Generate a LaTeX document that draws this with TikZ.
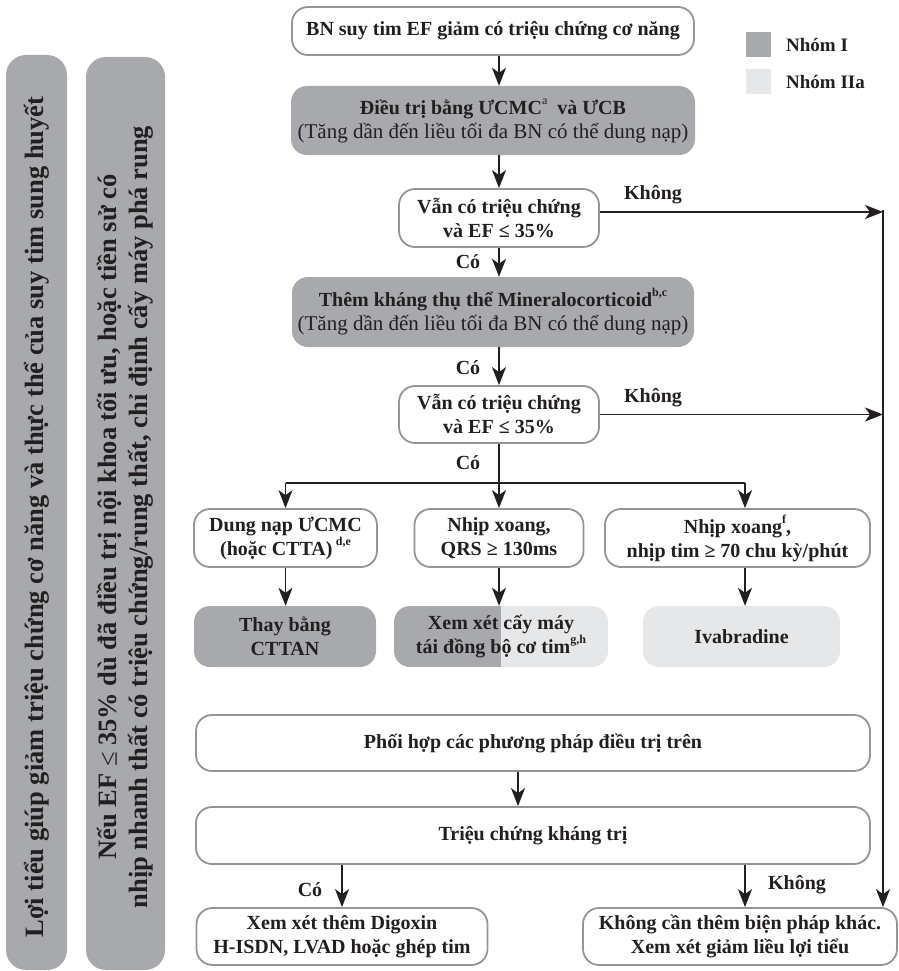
\documentclass[tikz,border=0pt]{standalone}
\usepackage{fontspec}
\setmainfont{Liberation Serif}
\usetikzlibrary{arrows.meta}
\definecolor{ink}{HTML}{231F20}
\definecolor{grpone}{HTML}{A7A9AC}
\definecolor{grptwo}{HTML}{E6E7E8}
\definecolor{rim}{HTML}{939598}
\newcommand\supnote[1]{\raisebox{0.5em}{\fontsize{12}{12}\selectfont #1}}
\newcommand\plainline[1]{{\fontsize{21}{25}\mdseries\selectfont #1}}

\begin{document}
\begin{tikzpicture}[x=1pt,y=-1pt,
  every node/.style={text=ink},
  base/.style={rounded corners=16pt, align=center, inner sep=0pt,
    font=\fontsize{20}{24}\selectfont\bfseries},
  openbox/.style={base, draw=rim, line width=1.8pt, fill=white},
  darkbox/.style={base, fill=grpone},
  lightbox/.style={base, fill=grptwo},
  wire/.style={draw=ink, line width=1.5pt},
  flow/.style={wire, -{Stealth[length=18pt,width=14pt,inset=5pt]}},
  tag/.style={font=\fontsize{20}{24}\selectfont\bfseries, inner sep=0pt},
  sidetext/.style={rotate=90, align=center, inner sep=0pt,
    font=\fontsize{26.5}{30.5}\selectfont\bfseries},
]
\useasboundingbox (0,0) rectangle (898,971);

% side bars
\fill[grpone, rounded corners=20pt] (6,55) rectangle (67,970);
\fill[grpone, rounded corners=20pt] (86,57) rectangle (165,970);
\node[sidetext] (diuretic) at (37,517)
  {Lợi tiểu giúp giảm triệu chứng cơ năng và thực thể của suy tim sung huyết};
\node[sidetext] (icd) at (125.5,517)
  {Nếu EF {\mdseries≤} 35\% dù đã điều trị nội khoa tối ưu, hoặc tiền sử có\\
   nhịp nhanh thất có triệu chứng/rung thất, chỉ định cấy máy phá rung};

% legend
\node[fill=grpone, minimum size=25pt, inner sep=0pt] (sqI) at (758.5,44.5) {};
\node[fill=grptwo, minimum size=25pt, inner sep=0pt] (sqIIa) at (758.5,82) {};
\node[anchor=west, inner sep=0pt, font=\fontsize{19}{22}\selectfont\bfseries]
  (lgI) at (786,45) {Nhóm I};
\node[anchor=west, inner sep=0pt, font=\fontsize{19}{22}\selectfont\bfseries]
  (lgIIa) at (786,82) {Nhóm IIa};

% main column
\node[openbox, minimum width=402pt, minimum height=48pt] (top) at (493,31)
  {BN suy tim EF giảm có triệu chứng cơ năng};
\node[darkbox, minimum width=404pt, minimum height=69pt] (treat) at (493,120.5)
  {Điều trị bằng ƯCMC\supnote{\mdseries a}\ \ và ƯCB\\
   \plainline{(Tăng dần đến liều tối đa BN có thể dung nạp)}};
\node[openbox, minimum width=200pt, minimum height=58pt] (dec1) at (499,218)
  {Vẫn có triệu chứng\\và EF ≤ 35\%};
\node[darkbox, minimum width=402pt, minimum height=70pt] (mra) at (493,312)
  {Thêm kháng thụ thể Mineralocorticoid\supnote{b,c}\\
   \plainline{(Tăng dần đến liều tối đa BN có thể dung nạp)}};
\node[openbox, minimum width=200pt, minimum height=57pt] (dec2) at (499,414.5)
  {Vẫn có triệu chứng\\và EF ≤ 35\%};

% three options
\node[openbox, minimum width=183pt, minimum height=58pt] (optA) at (285.5,538)
  {Dung nạp ƯCMC\\(hoặc CTTA)\,\supnote{d,e}};
\node[openbox, minimum width=169pt, minimum height=58pt] (optB) at (499,538)
  {Nhịp xoang,\\QRS ≥ 130ms};
\node[openbox, minimum width=265pt, minimum height=58pt] (optC) at (737.5,538)
  {Nhịp xoang\supnote{f},\\nhịp tim ≥ 70 chu kỳ/phút};

\node[darkbox, minimum width=182pt, minimum height=61pt] (resA) at (285,636.5)
  {Thay bằng\\CTTAN};
\node[base, minimum width=214pt, minimum height=61pt,
  path picture={
    \fill[grpone, sharp corners] (path picture bounding box.south west) rectangle (path picture bounding box.north);
    \fill[grptwo, sharp corners] (path picture bounding box.south) rectangle (path picture bounding box.north east);
  }] (resB) at (501,636.5)
  {Xem xét cấy máy\\tái đồng bộ cơ tim\supnote{g,h}};
\node[lightbox, minimum width=197pt, minimum height=61pt] (resC) at (741.5,636.5)
  {Ivabradine};

% lower part
\node[openbox, minimum width=674pt, minimum height=56pt] (combo) at (533,743)
  {Phối hợp các phương pháp điều trị trên};
\node[openbox, minimum width=674pt, minimum height=57pt] (refr) at (533,835.5)
  {Triệu chứng kháng trị};
\node[openbox, minimum width=291pt, minimum height=57pt] (outYes) at (342,936.5)
  {Xem xét thêm Digoxin\\H-ISDN, LVAD hoặc ghép tim};
\node[openbox, minimum width=314pt, minimum height=57pt] (outNo) at (740,936.5)
  {Không cần thêm biện pháp khác.\\Xem xét giảm liều lợi tiểu};

% helper points
\coordinate (rail) at (883,210);
\coordinate (fork) at (499,483);
\coordinate (cdrop) at (745,483);
\coordinate (mid) at (518,790);

% connectors, main column
\draw[flow] (dec1.north |- top.south) -- (dec1.north |- treat.north);
\draw[flow] (dec1.north |- treat.south) -- (dec1.north);
\draw[flow] (dec1.south) -- (dec1.south |- mra.north);
\draw[flow] (dec2.north |- mra.south) -- (dec2.north);
\draw[flow] ([yshift=6pt]dec1.east) -- ([yshift=6pt]dec1.east -| rail);
\draw[flow] (dec2.east) -- (dec2.east -| rail);
\draw[flow] (rail) -- (rail |- outNo.north);

% fork to the three options
\draw[wire] (dec2.south) -- (fork);
\draw[wire] (optA.north |- fork) -- (cdrop);
\draw[flow] (optA.north |- fork) -- (optA.north);
\draw[flow] (fork) -- (optB.north);
\draw[flow] (cdrop) -- (cdrop |- optC.north);
\draw[flow] (optA.south) -- (optA.south |- resA.north);
\draw[flow] (optB.south) -- (optB.south |- resB.north);
\draw[flow] (cdrop |- optC.south) -- (cdrop |- resC.north);

% lower connectors
\draw[flow] (mid |- combo.south) -- (mid |- refr.north);
\draw[flow] (outYes.north |- refr.south) -- (outYes.north);
\draw[flow] (cdrop |- refr.south) -- (cdrop |- outNo.north);

% branch labels
\node[tag] (no1) at (653,195) {Không};
\node[tag] (yes1) at (468,262) {Có};
\node[tag] (yes2) at (468,368) {Có};
\node[tag] (no2) at (653,398) {Không};
\node[tag] (yes3) at (468,463) {Có};
\node[tag] (yes4) at (310,890) {Có};
\node[tag] (no4) at (797,885) {Không};
\end{tikzpicture}
\end{document}
